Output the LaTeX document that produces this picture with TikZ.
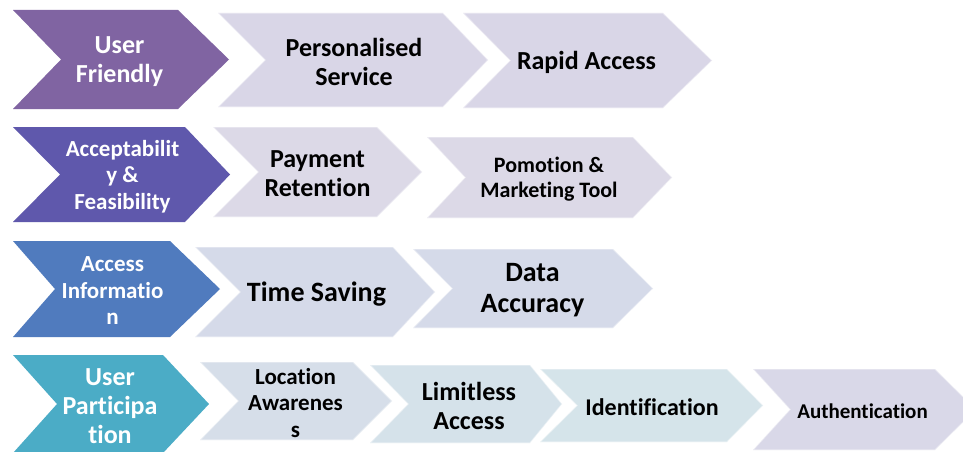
\documentclass[tikz,border=0pt]{standalone}
\usepackage{fontspec}
\setmainfont{Carlito}[Ligatures={NoCommon}]
\definecolor{cUF}{HTML}{8064A2}
\definecolor{cAF}{HTML}{5F58AC}
\definecolor{cAI}{HTML}{507BBE}
\definecolor{cUP}{HTML}{4BACC6}
\definecolor{lR1}{HTML}{D9D6E7}
\definecolor{lR2}{HTML}{DCD9E7}
\definecolor{lR3}{HTML}{D5DAE9}
\definecolor{lLA}{HTML}{D6DEE9}
\definecolor{lLI}{HTML}{D5E2EA}
\definecolor{lID}{HTML}{D5E4EA}
\definecolor{lAU}{HTML}{D9D8E8}
\tikzset{
  lightbox/.style={draw=white, draw opacity=0.45, line width=1.2pt, line join=miter},
  wt/.style={text=white, align=center, inner sep=0pt, yshift=-2pt},
  bt/.style={text=black, align=center, inner sep=0pt, yshift=-2pt},
  f21/.style={font=\fontsize{21}{24}\selectfont\bfseries},
  f22/.style={font=\fontsize{22}{25}\selectfont\bfseries},
  f23/.style={font=\fontsize{23}{26.5}\selectfont\bfseries},
  f24/.style={font=\fontsize{24}{27}\selectfont\bfseries},
  f26/.style={font=\fontsize{26}{29}\selectfont\bfseries},
  f28/.style={font=\fontsize{28}{31}\selectfont\bfseries},
}
% name, L, T, B, notch, corner, tip, fill+style ; then node options and text follow
\newcommand\mychev[8]{%
  \pgfmathsetmacro\chmidy{(#3+#4)/2}%
  \pgfmathsetmacro\chmidx{(#5+#6)/2}%
  \path[#8] (#2,#3) -- (#6,#3) -- (#7,\chmidy) -- (#6,#4) -- (#2,#4) -- (#5,\chmidy) -- cycle;
  \node (#1) at (\chmidx,\chmidy)}
\begin{document}
\begin{tikzpicture}[x=1pt,y=-1pt]
\useasboundingbox (0,0) rectangle (963,452);
\clip (0,0) rectangle (963,452);
\fill[white] (0,0) rectangle (963,452);
% Row 1
\mychev{uf}{13}{10}{109}{61}{178}{229}{fill=cUF} [wt,f26] {User\\Friendly};
\mychev{ps}{218}{13}{107}{265}{443}{488}{fill=lR1,lightbox} [bt,f26] {Personalised\\Service};
\mychev{ra}{463}{13}{108}{510}{663}{712}{fill=lR1,lightbox} [bt,f26] {Rapid Access};
% Row 2
\mychev{af}{13}{127}{222}{60}{185}{230}{fill=cAF} [wt,f23] {Acceptabilit\\y \&\\Feasibility};
\mychev{pr}{213}{127}{217}{258}{377}{422}{fill=lR2,lightbox} [bt,f26] {Payment\\Retention};
\mychev{pm}{427}{137}{218}{465}{633}{672}{fill=lR2,lightbox} [bt,f22] {Pomotion \&\\Marketing Tool};
% Row 3
\mychev{ai}{13}{241}{337}{55}{170}{220}{fill=cAI} [wt,f23] {Access\\Informatio\\n};
\mychev{ts}{195}{247}{337}{240}{393}{435}{fill=lR3,lightbox} [bt,f28] {Time Saving};
\mychev{da}{413}{249}{328}{452}{613}{653}{fill=lR3,lightbox} [bt,f28] {Data\\Accuracy};
% Row 4
\mychev{up}{13}{355}{453}{57}{163}{209}{fill=cUP} [wt,f26] {User\\Participa\\tion};
\mychev{la}{200}{362}{440}{238}{353}{392}{fill=lLA,lightbox} [bt,f23] {Location\\Awarenes\\s};
\mychev{li}{370}{365}{443}{408}{530}{562}{fill=lLI,lightbox} [bt,f26] {Limitless\\Access};
\mychev{id}{540}{369}{442}{577}{727}{763}{fill=lID,lightbox} [bt,f24] {Identification};
\mychev{au}{753}{369}{450}{790}{935}{976}{fill=lAU,lightbox} [bt,f21] {Authentication};
\end{tikzpicture}
\end{document}
